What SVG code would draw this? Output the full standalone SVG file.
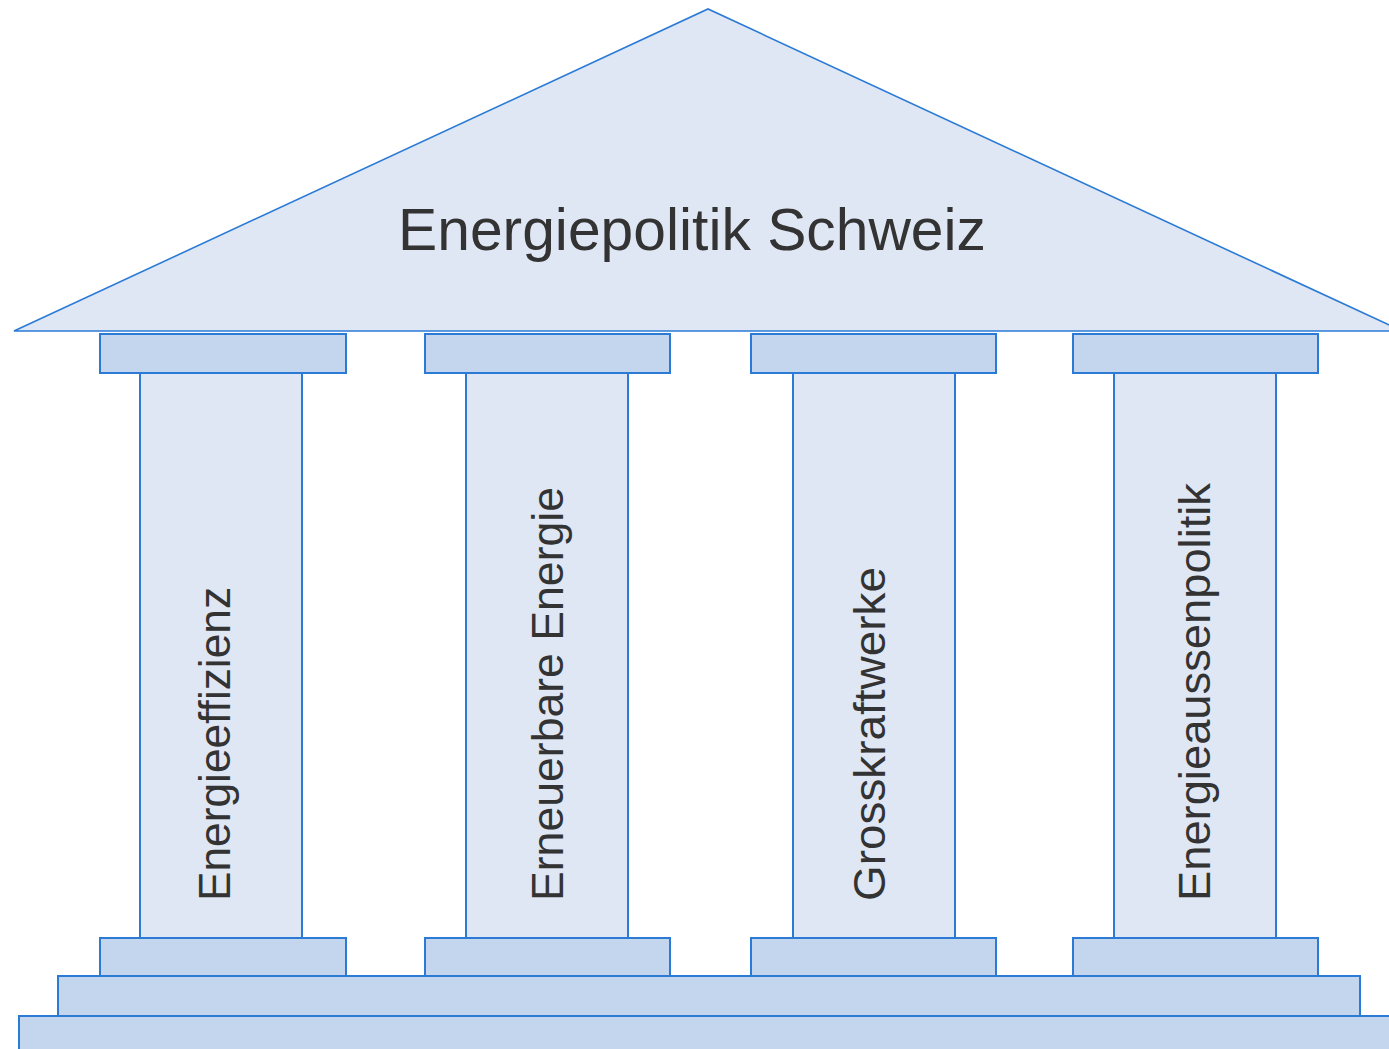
<svg xmlns="http://www.w3.org/2000/svg" width="1389" height="1049" viewBox="0 0 1389 1049">
<style>
.light{fill:#dfe7f5;stroke:#2b7bd6;stroke-width:2}
.dark{fill:#c4d5ee;stroke:#2b7bd6;stroke-width:2}
.roof{fill:#dfe7f5;stroke:#2b7bd6;stroke-width:1.6}
.t{font-family:"Liberation Sans",Arial,sans-serif;fill:#333333}
.v{font-size:45px}
</style>
<rect width="1389" height="1049" fill="#ffffff"/>
<g id="base">
<rect class="dark" x="19" y="1016" width="1380" height="45"/>
<rect class="dark" x="58" y="976" width="1302" height="40"/>
</g>
<g id="roof">
<polygon class="roof" points="14,331 708,9 1402,331"/>
<text class="t" x="398" y="250" font-size="59" textLength="588" lengthAdjust="spacingAndGlyphs">Energiepolitik Schweiz</text>
</g>
<g id="pillar1">
<rect class="light" x="140" y="373" width="162" height="565"/>
<rect class="dark" x="100" y="334" width="246" height="39"/>
<rect class="dark" x="100" y="938" width="246" height="38"/>
<text class="t v" transform="translate(230,901) rotate(-90)" textLength="314" lengthAdjust="spacingAndGlyphs">Energieeffizienz</text>
</g>
<g id="pillar2">
<rect class="light" x="466" y="373" width="162" height="565"/>
<rect class="dark" x="425" y="334" width="245" height="39"/>
<rect class="dark" x="425" y="938" width="245" height="38"/>
<text class="t v" transform="translate(563,901) rotate(-90)" textLength="414" lengthAdjust="spacingAndGlyphs">Erneuerbare Energie</text>
</g>
<g id="pillar3">
<rect class="light" x="793" y="373" width="162" height="565"/>
<rect class="dark" x="751" y="334" width="245" height="39"/>
<rect class="dark" x="751" y="938" width="245" height="38"/>
<text class="t v" transform="translate(885,901) rotate(-90)" textLength="334" lengthAdjust="spacingAndGlyphs">Grosskraftwerke</text>
</g>
<g id="pillar4">
<rect class="light" x="1114" y="373" width="162" height="565"/>
<rect class="dark" x="1073" y="334" width="245" height="39"/>
<rect class="dark" x="1073" y="938" width="245" height="38"/>
<text class="t v" transform="translate(1210,901) rotate(-90)" textLength="418" lengthAdjust="spacingAndGlyphs">Energieaussenpolitik</text>
</g>
<g id="connectors"/>
</svg>
